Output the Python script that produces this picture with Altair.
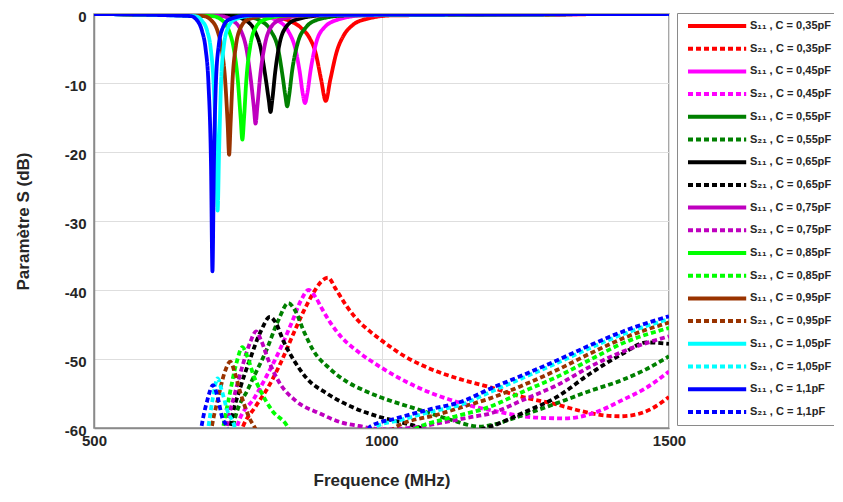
import altair as alt
import pandas as pd

# ---- legend labels / colours ----
capacities = ["0,35", "0,45", "0,55", "0,65", "0,75", "0,85", "0,95", "1,05", "1,1"]
curve_colors = ["#ff0000", "#ff00ff", "#008000", "#000000", "#bf00bf",
                "#00ff00", "#993300", "#00ffff", "#0000ff"]

# ---- S11 curves (MHz, dB) ----
s11_f_035 = [500, 800, 840, 860, 875, 885, 895, 903, 911, 922, 935, 950, 975, 1020, 1500]
s11_db_035 = [0, -0.3, -1.0, -2.0, -3.5, -5.5, -9.5, -12.6, -9.5, -5.5, -3.0, -1.6, -0.7, -0.2, 0]
s11_f_045 = [500, 790, 820, 838, 850, 858, 863, 867, 871, 877, 887, 900, 925, 970, 1500]
s11_db_045 = [0, -0.3, -1.0, -2.5, -5.0, -8.5, -11.5, -12.9, -11.5, -8.0, -4.0, -2.0, -0.8, -0.2, 0]
s11_f_055 = [500, 760, 790, 808, 820, 828, 833, 836, 839, 845, 855, 868, 890, 940, 1500]
s11_db_055 = [0, -0.3, -1.0, -2.5, -5.0, -9.0, -12.0, -13.4, -12.0, -8.0, -4.0, -2.0, -0.8, -0.2, 0]
s11_f_065 = [500, 740, 765, 780, 790, 798, 804, 807, 810, 815, 823, 833, 852, 900, 1500]
s11_db_065 = [0, -0.3, -1.0, -2.5, -5.0, -9.0, -12.5, -14.2, -12.5, -8.5, -4.2, -2.0, -0.8, -0.2, 0]
s11_f_075 = [500, 720, 742, 756, 765, 772, 778, 781, 784, 789, 797, 807, 825, 870, 1500]
s11_db_075 = [0, -0.3, -1.0, -2.5, -5.0, -9.0, -13.5, -15.9, -13.5, -9.0, -4.5, -2.0, -0.8, -0.2, 0]
s11_f_085 = [500, 705, 724, 735, 743, 750, 755, 758, 761, 765, 772, 781, 797, 840, 1500]
s11_db_085 = [0, -0.3, -1.0, -2.5, -5.0, -9.5, -15.0, -18.2, -15.0, -9.5, -4.5, -2.0, -0.8, -0.2, 0]
s11_f_095 = [500, 690, 705, 715, 722, 728, 732.5, 735, 737.5, 741, 747, 755, 768, 805, 1500]
s11_db_095 = [0, -0.3, -1.0, -2.5, -5.0, -9.5, -16.0, -20.4, -16.0, -9.5, -4.5, -2.0, -0.8, -0.2, 0]
s11_f_105 = [500, 675, 688, 697, 703, 708, 712.5, 715, 717.5, 721, 726, 733, 745, 780, 1500]
s11_db_105 = [0, -0.3, -1.0, -2.5, -5.0, -10.0, -20.0, -28.5, -20.0, -10.0, -4.5, -2.0, -0.8, -0.2, 0]
s11_f_110 = [500, 668, 680, 688, 694, 699, 703.5, 706, 708.5, 712, 717, 724, 735, 770, 1500]
s11_db_110 = [0, -0.3, -1.0, -2.5, -5.0, -10.0, -22.0, -37.3, -22.0, -10.0, -4.5, -2.0, -0.8, -0.2, 0]

# ---- S21 curves (MHz, dB) ----
s21_f_035 = [750, 759, 780, 800, 825, 847, 865, 881, 895, 907, 920, 939, 960, 980, 1000, 1040, 1084, 1140, 1189, 1250, 1305, 1345, 1380, 1415, 1445, 1470, 1500]
s21_db_035 = [-62, -59.8, -57.0, -54.5, -50.5, -46.3, -43.0, -40.5, -38.8, -38.2, -39.8, -42.3, -44.5, -46.0, -47.3, -49.6, -51.4, -53.0, -54.1, -55.6, -56.6, -57.5, -58.1, -58.3, -58.0, -57.2, -55.5]
s21_f_045 = [745, 750, 780, 800, 823, 845, 860, 873, 885, 897, 910, 930, 960, 997, 1060, 1119, 1200, 1270, 1320, 1370, 1420, 1460, 1500]
s21_db_045 = [-62, -59.5, -55.5, -52.5, -48.7, -44.5, -41.5, -40.0, -41.0, -42.8, -44.6, -46.8, -49.0, -51.1, -54.0, -55.9, -57.6, -58.5, -58.6, -57.8, -55.9, -54.2, -51.8]
s21_f_055 = [738, 742, 770, 800, 820, 838, 850, 865, 881, 910, 940, 968, 997, 1067, 1120, 1171, 1189, 1240, 1305, 1360, 1420, 1460, 1500]
s21_db_055 = [-62, -59.8, -54.0, -48.7, -44.5, -41.9, -43.0, -46.0, -48.7, -51.4, -53.3, -54.5, -55.5, -57.4, -58.8, -59.8, -59.6, -58.3, -56.4, -54.7, -53.0, -51.5, -49.6]
s21_f_065 = [733, 737, 755, 771, 790, 806, 815, 830, 847, 870, 905, 950, 997, 1050, 1100, 1160, 1189, 1246, 1305, 1363, 1420, 1461, 1500]
s21_db_065 = [-62, -59.8, -54.0, -50.1, -46.0, -43.9, -44.6, -47.5, -50.1, -52.8, -55.0, -57.0, -58.4, -59.5, -60.6, -60.4, -59.8, -57.8, -55.5, -52.1, -49.2, -47.6, -47.8]
s21_f_075 = [727, 731, 745, 760, 772, 782, 790, 805, 823, 850, 893, 930, 960, 1000, 1050, 1100, 1150, 1189, 1247, 1305, 1363, 1420, 1500]
s21_db_075 = [-62, -59.8, -55.0, -50.5, -47.5, -46.0, -47.2, -50.5, -53.5, -56.0, -57.9, -59.2, -59.7, -60.2, -60.0, -59.3, -58.5, -57.9, -55.9, -53.8, -51.1, -48.9, -46.7]
s21_f_085 = [721, 725, 735, 748, 758, 766, 778, 789, 810, 835, 850, 950, 1040, 1067, 1120, 1189, 1247, 1305, 1363, 1420, 1500]
s21_db_085 = [-62, -59.8, -55.5, -50.5, -48.3, -49.5, -52.5, -54.5, -57.5, -59.6, -62, -70, -61.0, -59.8, -58.5, -56.9, -54.7, -52.6, -50.1, -47.7, -45.5]
s21_f_095 = [701, 705, 715, 727, 737, 745, 755, 770, 783, 790, 900, 1000, 1026, 1100, 1150, 1189, 1246, 1305, 1363, 1420, 1500]
s21_db_095 = [-62, -59.8, -56.0, -52.0, -50.4, -52.0, -55.0, -58.5, -60.5, -62, -70, -62, -59.8, -58.0, -56.7, -55.7, -53.8, -51.6, -49.2, -47.0, -44.7]
s21_f_105 = [695, 699, 707, 715, 722, 732, 745, 750, 850, 985, 990, 1030, 1084, 1142, 1189, 1247, 1305, 1363, 1420, 1500]
s21_db_105 = [-62, -59.8, -55.5, -52.8, -54.5, -57.5, -60.0, -62, -70, -61.0, -59.8, -58.9, -57.7, -56.5, -54.8, -52.7, -50.6, -48.4, -46.4, -44.2]
s21_f_110 = [683, 687, 697, 707, 715, 723, 731, 735, 850, 975, 980, 1026, 1084, 1142, 1189, 1247, 1305, 1363, 1420, 1500]
s21_db_110 = [-62, -59.8, -56.0, -53.8, -55.5, -58.5, -60.0, -62, -70, -61.0, -59.8, -58.6, -57.3, -56.1, -54.3, -52.3, -50.2, -48.0, -46.0, -43.8]

s11_curves = [(s11_f_035, s11_db_035), (s11_f_045, s11_db_045), (s11_f_055, s11_db_055),
              (s11_f_065, s11_db_065), (s11_f_075, s11_db_075), (s11_f_085, s11_db_085),
              (s11_f_095, s11_db_095), (s11_f_105, s11_db_105), (s11_f_110, s11_db_110)]
s21_curves = [(s21_f_035, s21_db_035), (s21_f_045, s21_db_045), (s21_f_055, s21_db_055),
              (s21_f_065, s21_db_065), (s21_f_075, s21_db_075), (s21_f_085, s21_db_085),
              (s21_f_095, s21_db_095), (s21_f_105, s21_db_105), (s21_f_110, s21_db_110)]

rows = []
labels, colors, dashes = [], [], []
for i, cap in enumerate(capacities):
    for kind, curves, dash in (("\u2081\u2081", s11_curves, [1, 0]), ("\u2082\u2081", s21_curves, [5, 3])):
        lead = " " if (cap == "0,45" and kind == "\u2081\u2081") else ""
        lab = f"{lead}S{kind} , C = {cap}pF"
        labels.append(lab)
        colors.append(curve_colors[i])
        dashes.append(dash)
        f, db = curves[i]
        for j, (x, y) in enumerate(zip(f, db)):
            rows.append({"series": lab, "f": x, "db": y, "k": j})

df = pd.DataFrame(rows)

font = "Liberation Sans"
chart = alt.Chart(df).mark_line(clip=True, strokeWidth=3.8, interpolate="monotone").encode(
    x=alt.X("f:Q", scale=alt.Scale(domain=[500, 1500], nice=False),
            axis=alt.Axis(values=[500, 1000, 1500], title="Frequence (MHz)",
                          labelExpr="'' + datum.value", labelFlush=False)),
    y=alt.Y("db:Q", scale=alt.Scale(domain=[-60, 0], nice=False),
            axis=alt.Axis(values=[-60, -50, -40, -30, -20, -10, 0], title="Paramètre S (dB)",
                          labelExpr="'' + datum.value", labelFlush=False, labelOffset=2)),
    color=alt.Color("series:N", sort=labels,
                    scale=alt.Scale(domain=labels, range=colors),
                    legend=alt.Legend(title=None, orient="none", legendX=583, legendY=-1,
                                      symbolType="M-1,0H8.7", symbolStrokeWidth=4, symbolSize=144,
                                      symbolFillColor="transparent", symbolOffset=4,
                                      labelFont=font, labelFontSize=11, labelFontWeight="bold",
                                      labelColor="#262626", rowPadding=6.7, labelOffset=48,
                                      strokeColor="#8a8a8a", fillColor="white", padding=5,
                                      labelLimit=200)),
    strokeDash=alt.StrokeDash("series:N", sort=labels,
                              scale=alt.Scale(domain=labels, range=dashes), legend=None),
    order="k:Q",
).properties(
    width=575, height=414,
    padding={"left": 86, "top": 6, "right": 165, "bottom": 62},
    autosize=alt.AutoSizeParams(type="none"),
).configure_view(stroke="#8a8a8a", strokeWidth=1.5).configure_axis(
    labelFont=font, titleFont=font, labelFontSize=15, labelFontWeight="bold",
    titleFontSize=17, titleFontWeight="bold", labelColor="#262626", titleColor="#262626",
    gridColor="#dedede", gridWidth=1, domainColor="#8a8a8a", domainWidth=1.5, tickSize=0,
).configure_axisX(labelPadding=5, titlePadding=24).configure_axisY(labelPadding=8, titlePadding=32)

chart.save("out.html", embed_options={"renderer": "svg", "actions": False})
